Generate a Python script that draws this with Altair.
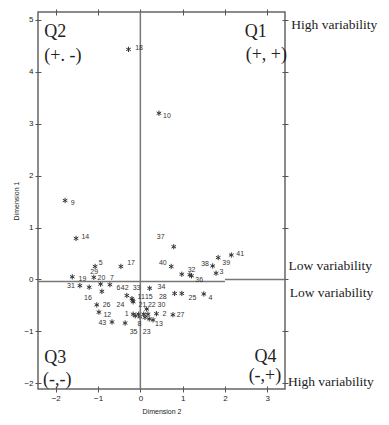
import altair as alt
import pandas as pd

# ---- data ----
ids = ["18", "10", "9", "14", "37", "41", "39", "38", "3", "32", "36", "40", "17", "5",
       "29", "19", "20", "7", "31", "16", "", "", "26", "12", "43", "6", "42", "33", "24",
       "11", "15", "28", "25", "4", "34", "21", "22", "30", "1", "2", "27", "8", "13",
       "35", "23", ""]
dim2 = [-0.28, 0.44, -1.78, -1.52, 0.79, 2.15, 1.84, 1.71, 1.79, 1.17, 1.21, 0.73, -0.46, -1.07,
        -1.10, -1.61, -0.94, -0.72, -1.43, -1.21, -0.91, 0.98, -1.03, -0.98, -0.67, -0.20, -0.18, -0.32, -0.17,
        -0.17, 0.08, 0.81, 0.98, 1.50, 0.22, 0.15, 0.18, 0.30, -0.12, 0.38, 0.77, -0.01, 0.21,
        -0.36, 0.11, -0.04]
dim1 = [4.43, 3.20, 1.52, 0.79, 0.63, 0.47, 0.42, 0.26, 0.12, 0.09, 0.07, 0.25, 0.25, 0.25,
        0.04, 0.05, -0.09, -0.10, -0.12, -0.15, -0.23, 0.10, -0.49, -0.63, -0.82, -0.37, -0.40, -0.31, -0.43,
        -0.67, -0.67, -0.27, -0.27, -0.28, -0.17, -0.57, -0.67, -0.78, -0.70, -0.66, -0.68, -0.72, -0.76,
        -0.84, -0.73, -0.67]
label_dim2 = [-0.03, 0.63, -1.60, -1.30, 0.48, 2.36, 2.03, 1.53, 1.92, 1.21, 1.39, 0.53, -0.22, -0.94,
              -1.09, -1.37, -0.92, -0.67, -1.64, -1.24, -0.91, 0.98, -0.80, -0.78, -0.90, -0.52, -0.37, -0.09, -0.47,
              0.02, 0.20, 0.53, 1.23, 1.66, 0.50, 0.05, 0.27, 0.50, -0.32, 0.57, 0.95, -0.02, 0.44,
              -0.16, 0.15, -0.04]
label_dim1 = [4.45, 3.14, 1.48, 0.81, 0.81, 0.49, 0.31, 0.30, 0.15, 0.18, -0.01, 0.31, 0.31, 0.32,
              0.15, 0.00, 0.02, 0.02, -0.12, -0.35, -0.23, 0.10, -0.50, -0.68, -0.84, -0.17, -0.17, -0.17, -0.50,
              -0.33, -0.33, -0.33, -0.36, -0.36, -0.15, -0.50, -0.50, -0.50, -0.66, -0.66, -0.68, -0.86, -0.86,
              -1.02, -1.02, -0.67]

x_ticks = [-2, -1, 0, 1, 2, 3]
y_ticks = [-2, -1, 0, 1, 2, 3, 4, 5]
x_domain = [-2.42, 3.42]
y_domain = [-2.11, 5.15]

quad_text = ["Q2", "(+. -)", "Q1", "(+, +)", "Q3", "(-,-)", "Q4", "(-,+)"]
quad_x = [-2.27, -2.27, 2.47, 2.49, -2.27, -2.30, 2.70, 2.56]
quad_y = [4.76, 4.30, 4.76, 4.32, -1.52, -1.94, -1.50, -1.86]

side_text = ["High variability", "Low variability", "Low variability", "High variability"]
side_x = [3.57, 3.50, 3.53, 3.49]
side_y = [4.90, 0.26, -0.26, -1.98]

# ---- tables ----
pts = pd.DataFrame({"id": ids, "d2": dim2, "d1": dim1, "ld2": label_dim2, "ld1": label_dim1})
pts_lab = pts[pts["id"] != ""]
quad = pd.DataFrame({"t": quad_text, "x": quad_x, "y": quad_y})
side = pd.DataFrame({"t": side_text, "x": side_x, "y": side_y})
hseg = pd.DataFrame({"x": [x_domain[0], 2.0], "x2": [2.0, x_domain[1]], "y": [-0.04, 0.0]})
vline = pd.DataFrame({"x": [0.0]})

xs = alt.Scale(domain=x_domain, nice=False, zero=False)
ys = alt.Scale(domain=y_domain, nice=False, zero=False)

x_axis = alt.Axis(values=x_ticks, format="d", title="Dimension 2", titlePadding=5)
y_axis = alt.Axis(values=y_ticks, format="d", title="Dimension 1", titlePadding=4)

asterisk = "M0,-1L0,1M-0.87,-0.5L0.87,0.5M-0.87,0.5L0.87,-0.5"

points = alt.Chart(pts).mark_point(
    shape=asterisk, filled=False, stroke="#333333", strokeWidth=1, size=28, opacity=1
).encode(
    x=alt.X("d2:Q", scale=xs, axis=x_axis),
    y=alt.Y("d1:Q", scale=ys, axis=y_axis),
)

labels = alt.Chart(pts_lab).mark_text(
    font="Liberation Sans", fontSize=7, color="#333333", align="center", baseline="middle"
).encode(
    x=alt.X("ld2:Q", scale=xs),
    y=alt.Y("ld1:Q", scale=ys),
    text="id:N",
)

hrule = alt.Chart(hseg).mark_rule(color="#777777", strokeWidth=1.5).encode(
    x=alt.X("x:Q", scale=xs), x2="x2:Q", y=alt.Y("y:Q", scale=ys)
)
vrule = alt.Chart(vline).mark_rule(color="#777777", strokeWidth=1.5).encode(
    x=alt.X("x:Q", scale=xs)
)

quad_marks = alt.Chart(quad).mark_text(
    font="Liberation Serif", fontSize=18, color="#222222", align="left", baseline="middle"
).encode(x=alt.X("x:Q", scale=xs), y=alt.Y("y:Q", scale=ys), text="t:N")

side_marks = alt.Chart(side).mark_text(
    font="Liberation Serif", fontSize=13.5, color="#222222", align="left", baseline="middle", clip=False
).encode(x=alt.X("x:Q", scale=xs), y=alt.Y("y:Q", scale=ys), text="t:N")

inner = alt.layer(points, hrule, vrule, labels, quad_marks, side_marks)

frame_axes = alt.Chart(pts).mark_point(opacity=0).encode(
    x=alt.X("d2:Q", scale=xs, axis=alt.Axis(orient="top", values=x_ticks, labels=False, title=None)),
    y=alt.Y("d1:Q", scale=ys, axis=alt.Axis(orient="right", values=y_ticks, labels=False, title=None)),
)

chart = alt.layer(inner, frame_axes).resolve_scale(
    x="independent", y="independent"
).properties(
    width=373, height=409,
    padding={"left": 4, "top": 0, "right": 0, "bottom": 3},
    autosize=alt.AutoSizeParams(type="fit", contains="padding"),
    background="white",
).configure_view(
    stroke="#666666", strokeWidth=1.5
).configure_axis(
    domain=False, grid=False, ticks=True, tickSize=6, offset=-3, tickColor="#555555",
    labelFont="Liberation Sans", labelFontSize=8, labelColor="#222222", labelPadding=2,
    titleFont="Liberation Sans", titleFontSize=7, titleFontWeight="normal", titleColor="#222222",
)

chart.save("out.html", embed_options={"renderer": "svg", "actions": False})
